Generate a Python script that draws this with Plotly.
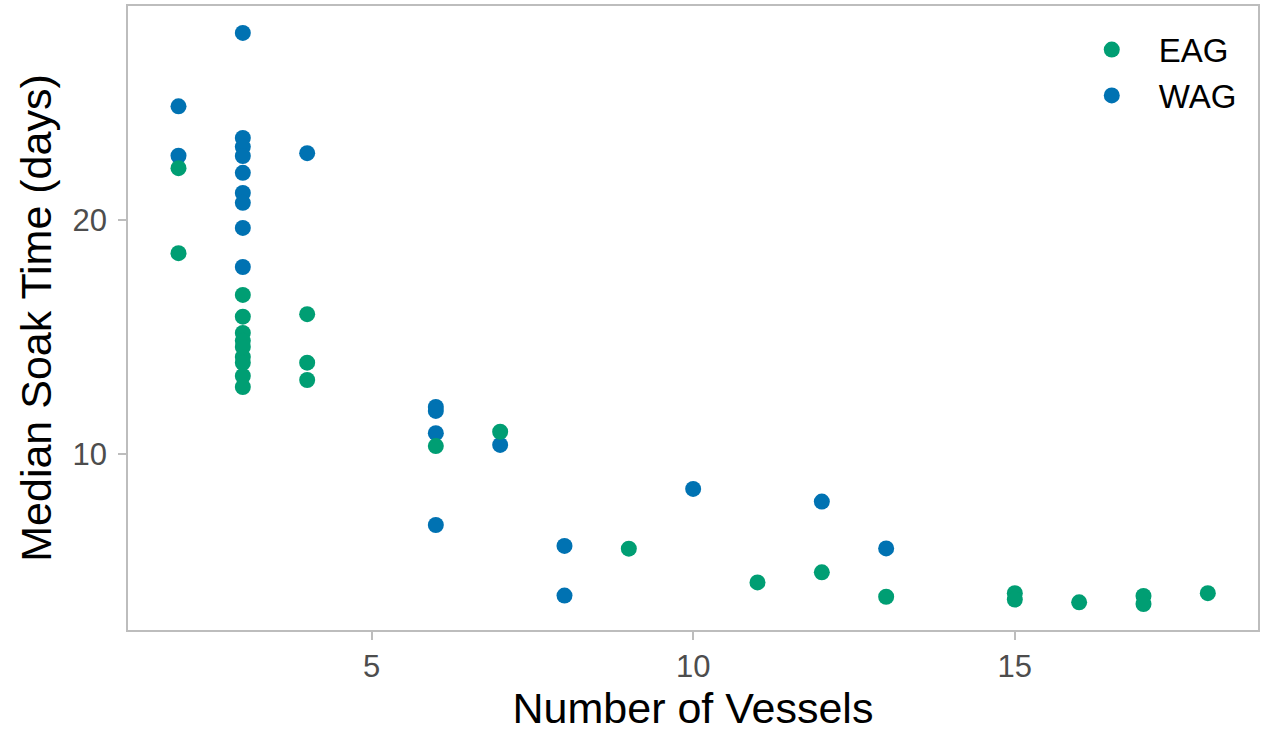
import plotly.graph_objects as go

# Data
eag_vessels = [2, 2, 3, 3, 3, 3, 3, 3, 3, 3, 3, 4, 4, 4, 6, 7, 9, 11, 12, 13, 15, 15, 16, 17, 17, 18]
eag_soak = [22.21, 18.58, 16.80, 15.87, 15.18, 14.84, 14.58, 14.15, 13.90, 13.34, 12.87,
            15.98, 13.91, 13.17, 10.35, 10.96, 5.97, 4.53, 4.96, 3.92, 4.07, 3.80, 3.68,
            3.95, 3.61, 4.07]

wag_vessels = [2, 2, 3, 3, 3, 3, 3, 3, 3, 3, 3, 4, 6, 6, 6, 6, 7, 8, 8, 10, 12, 13]
wag_soak = [24.85, 22.74, 27.98, 23.50, 23.12, 22.73, 22.01, 21.15, 20.73, 19.66, 17.99,
            22.85, 12.02, 11.85, 10.90, 6.98, 10.40, 6.09, 3.97, 8.52, 7.98, 5.98]

x_ticks = [5, 10, 15]
y_ticks = [10, 20]

GREEN = "#009E73"
BLUE = "#0072B2"
FONT = "Liberation Sans, Arial, sans-serif"

fig = go.Figure()
fig.add_trace(go.Scatter(
    x=wag_vessels, y=wag_soak, mode="markers", name="WAG", legendrank=2,
    marker=dict(color=BLUE, size=16, line=dict(width=0)),
))
fig.add_trace(go.Scatter(
    x=eag_vessels, y=eag_soak, mode="markers", name="EAG", legendrank=1,
    marker=dict(color=GREEN, size=16, line=dict(width=0)),
))

axis_common = dict(
    showgrid=False, zeroline=False, automargin=False,
    showline=True, mirror=True, linecolor="#BDBDBD", linewidth=1.5,
    ticks="outside", ticklen=8, tickwidth=1.5, tickcolor="#BDBDBD",
    tickfont=dict(family=FONT, size=31, color="#4D4D4D"),
)

fig.update_layout(
    width=1270, height=732,
    margin=dict(l=128, r=12, t=6, b=102),
    paper_bgcolor="white", plot_bgcolor="white",
    font=dict(family=FONT),
    showlegend=True,
    legend=dict(
        x=0.829, y=0.975, xanchor="left", yanchor="top",
        itemwidth=84,
        bgcolor="rgba(0,0,0,0)",
        font=dict(family=FONT, size=33, color="black"),
    ),
    xaxis=dict(
        range=[1.215, 18.78], tickvals=x_ticks,
        title=dict(text="Number of Vessels", font=dict(family=FONT, size=43, color="black"), standoff=8),
        **axis_common,
    ),
    yaxis=dict(
        range=[2.50, 29.13], tickvals=y_ticks, ticklabelstandoff=5,
        title=dict(text="Median Soak Time (days)", font=dict(family=FONT, size=43, color="black"), standoff=8),
        **axis_common,
    ),
)

fig.write_html(
    "out.html",
    config={"displayModeBar": False},
    post_script="document.body.style.margin='0';document.body.style.overflow='hidden';",
)
